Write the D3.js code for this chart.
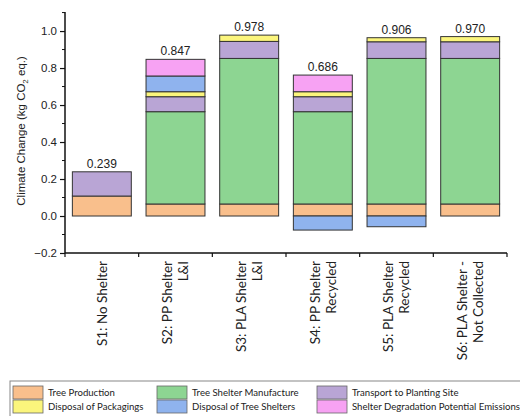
<!DOCTYPE html>
<html lang="en">
<head>
<meta charset="utf-8">
<title>Climate Change by scenario</title>
<script src="https://d3js.org/d3.v7.min.js"></script>
<style>
  body { margin: 0; background: #fff; }
  svg text { fill: #222; }
</style>
</head>
<body>
<script>
// scenarios (each label split into lines)
var scenarios = ["S1", "S2", "S3", "S4", "S5", "S6"];
var scenarioLines = [
  ["S1: No Shelter"],
  ["S2: PP Shelter", "L&I"],
  ["S3: PLA Shelter", "L&I"],
  ["S4: PP Shelter", "Recycled"],
  ["S5: PLA Shelter", "Recycled"],
  ["S6: PLA Shelter -", "Not Collected"]
];
var totals = [0.239, 0.847, 0.978, 0.686, 0.906, 0.970];

// stage names, in stacking order
var stages = ["Tree Production", "Tree Shelter Manufacture", "Transport to Planting Site",
              "Disposal of Packagings", "Disposal of Tree Shelters", "Shelter Degradation Potential Emissions"];
var stageColors = ["#f9bf8c", "#8dd592", "#b9a5d5", "#fbf57c", "#8fb3ee", "#f7a2f3"];

// values per stage, one per scenario (kg CO2 eq.)
var treeProduction   = [0.108, 0.065, 0.065, 0.065, 0.065, 0.065];
var shelterManufact  = [0,     0.499, 0.787, 0.499, 0.787, 0.787];
var transport        = [0.131, 0.081, 0.092, 0.081, 0.090, 0.090];
var packagings       = [0,     0.027, 0.034, 0.027, 0.022, 0.028];
var shelterDisposal  = [0,     0.085, 0,    -0.076, -0.058, 0];
var degradation      = [0,     0.090, 0,     0.090, 0,     0];

var series = [treeProduction, shelterManufact, transport, packagings, shelterDisposal, degradation];

var yTicks = [-0.2, 0.0, 0.2, 0.4, 0.6, 0.8, 1.0];

var W = 520, H = 416;
var mLeft = 65, mRight = 507, mTop = 12, mBottom = 253;

var svg = d3.select("body").append("svg").attr("width", W).attr("height", H);

var x = d3.scaleBand().domain(scenarios).range([mLeft, mRight]).paddingInner(0.2).paddingOuter(0.1);
var y = d3.scaleLinear().domain([-0.2, 1.103]).range([mBottom, mTop]);

// build stacked segments (positive stack up, negative stack down)
var segs = [];
scenarios.forEach(function(s, i) {
  var pos = 0, neg = 0;
  series.forEach(function(arr, k) {
    var v = arr[i];
    if (v > 0) { segs.push({s: s, k: k, y0: pos, y1: pos + v}); pos += v; }
    else if (v < 0) { segs.push({s: s, k: k, y0: neg + v, y1: neg}); neg += v; }
  });
});

svg.selectAll("rect.seg")
  .data(segs)
  .enter()
  .append("rect")
    .attr("class", "seg")
    .attr("x", function(d) { return x(d.s); })
    .attr("width", x.bandwidth())
    .attr("y", function(d) { return y(d.y1); })
    .attr("height", function(d) { return y(d.y0) - y(d.y1); })
    .attr("fill", function(d) { return stageColors[d.k]; })
    .attr("stroke", "#333")
    .attr("stroke-width", 1);

// total labels on top of positive stack
svg.selectAll("text.total")
  .data(scenarios)
  .enter()
  .append("text")
    .attr("x", function(d) { return x(d) + x.bandwidth() / 2; })
    .attr("y", function(d, i) {
      var pos = d3.sum(series, function(a) { return a[i] > 0 ? a[i] : 0; });
      return y(pos) - 4;
    })
    .attr("text-anchor", "middle")
    .style("font", "12px 'Liberation Sans', Arial, sans-serif")
    .text(function(d, i) { return totals[i].toFixed(3); });

// y axis
var yAxis = d3.axisLeft(y).tickValues(yTicks).tickFormat(d3.format(".1f")).tickSize(5).tickSizeOuter(0);
var gy = svg.append("g").attr("transform", "translate(" + mLeft + ",0)").call(yAxis);
gy.selectAll("text").style("font", "11.5px 'Liberation Sans', Arial, sans-serif").attr("fill", "#222");
gy.select(".domain").attr("stroke", "#111").attr("stroke-width", 1.5).attr("d", "M0," + mTop + "V" + mBottom);
gy.selectAll(".tick line").attr("stroke", "#111").attr("stroke-width", 1.2);
// minor ticks
svg.selectAll("line.minor")
  .data([-0.1, 0.1, 0.3, 0.5, 0.7, 0.9, 1.1])
  .enter()
  .append("line")
    .attr("x1", mLeft - 3).attr("x2", mLeft)
    .attr("y1", function(d) { return y(d); }).attr("y2", function(d) { return y(d); })
    .attr("stroke", "#111").attr("stroke-width", 1);

// x axis with ticks at band edges
var edges = scenarios.map(function(s) { return x(s) - x.step() * x.paddingInner() / 2; });
edges[0] = mLeft;
edges.push(mRight);
svg.append("line").attr("x1", mLeft).attr("x2", mRight).attr("y1", mBottom).attr("y2", mBottom)
  .attr("stroke", "#111").attr("stroke-width", 1.5);
svg.selectAll("line.xt")
  .data(edges)
  .enter()
  .append("line")
    .attr("x1", function(d) { return d; }).attr("x2", function(d) { return d; })
    .attr("y1", mBottom).attr("y2", mBottom + 4)
    .attr("stroke", "#111").attr("stroke-width", 1.2);

// category labels, rotated
var cat = svg.selectAll("g.cat")
  .data(scenarios)
  .enter()
  .append("g")
    .attr("transform", function(d) {
      return "translate(" + (x(d) + x.bandwidth() / 2) + "," + (mBottom + 8) + ") rotate(-90)";
    });
cat.each(function(d, i) {
  var lines = scenarioLines[i];
  var n = lines.length;
  var g = d3.select(this);
  lines.forEach(function(t, j) {
    g.append("text")
      .attr("x", 0)
      .attr("y", (j - (n - 1) / 2) * 16)
      .attr("dy", "0.35em")
      .attr("text-anchor", "end")
      .style("font", "13.5px Lato, 'Open Sans', sans-serif")
      .text(t);
  });
});

// y label
svg.append("text")
  .attr("transform", "translate(21," + y(0.46) + ") rotate(-90)")
  .attr("text-anchor", "middle")
  .attr("dy", "0.35em")
  .style("font", "11.5px 'Liberation Sans', Arial, sans-serif")
  .html("Climate Change (kg CO<tspan dy='3' font-size='8'>2</tspan><tspan dy='-3'> eq.)</tspan>");

// legend
var lg = svg.append("g");
lg.append("rect").attr("x", 10).attr("y", 381).attr("width", 520).attr("height", 40)
  .attr("fill", "#fff").attr("stroke", "#888").attr("stroke-width", 1);
var colX = [13, 157, 317];
var rowY = [386, 400];
var item = lg.selectAll("g.item")
  .data(stages)
  .enter()
  .append("g")
    .attr("transform", function(d, i) { return "translate(" + colX[i % 3] + "," + rowY[Math.floor(i / 3)] + ")"; });
item.append("rect").attr("width", 30).attr("height", 13)
  .attr("fill", function(d, i) { return stageColors[i]; })
  .attr("stroke", "#666").attr("stroke-width", 0.8);
item.append("text").attr("x", 35).attr("y", 6.5).attr("dy", "0.35em")
  .style("font", "9.6px Lato, 'Open Sans', sans-serif")
  .text(function(d) { return d; });
</script>
</body>
</html>
